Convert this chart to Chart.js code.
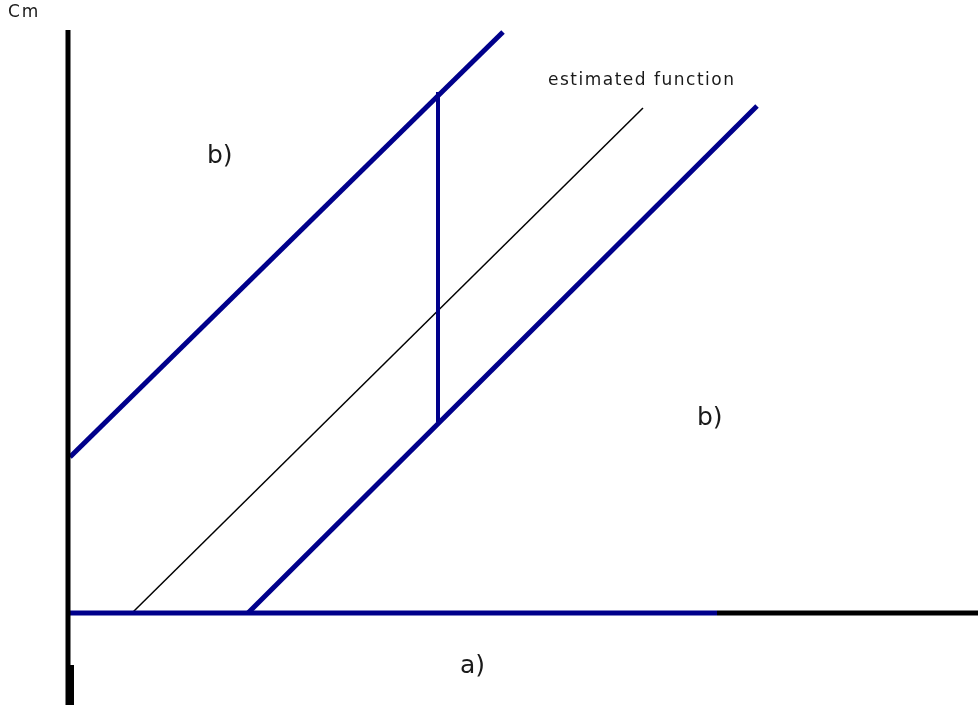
<!DOCTYPE html>
<html>
<head>
<meta charset="utf-8">
<script src="https://cdn.jsdelivr.net/npm/chart.js@4"></script>
<style>
  html, body { margin: 0; padding: 0; background: #fff; }
  #wrap { width: 978px; height: 709px; }
</style>
</head>
<body>
<div id="wrap"><canvas id="sketch"></canvas></div>
<script>
// values measured from the axis origin (x right, y up)
const upperBand = [{ x: 2, y: 156 }, { x: 435, y: 581 }];
const estimated = [{ x: 65, y: 1 }, { x: 575, y: 505 }];
const lowerBand = [{ x: 180, y: 0 }, { x: 689, y: 507 }];
const gap = [{ x: 370, y: 521 }, { x: 370, y: 191 }];
const xAxisBlue = [{ x: 0, y: 0 }, { x: 649, y: 0 }];
const xAxisBlack = [{ x: 649, y: 0 }, { x: 910, y: 0 }];
const yAxis = [{ x: 0, y: 583 }, { x: 0, y: -92 }];
const yAxisStub = [{ x: 3, y: -52 }, { x: 3, y: -92 }];

// text anchors (left, baseline) in the same units
const labels = [
    { text: 'Cm', x: -60, y: 596, size: 17, spacing: 2 },
    { text: 'estimated function', x: 480, y: 528, size: 17, spacing: 1.5 },
    { text: 'b)', x: 139, y: 450, size: 25 },
    { text: 'b)', x: 629, y: 188, size: 25 },
    { text: 'a)', x: 392, y: -60, size: 25 }
];

const blue = '#00008b';

function line(data, color, width) {
    return {
        data: data,
        showLine: true,
        borderColor: color,
        borderWidth: width,
        pointRadius: 0,
        fill: false
    };
}

// draw the hand-written labels at data positions
const textPlugin = {
    id: 'sketchText',
    afterDatasetsDraw(chart) {
        const c = chart.ctx;
        const xs = chart.scales.x, ys = chart.scales.y;
        c.save();
        c.fillStyle = '#1a1a1a';
        c.textBaseline = 'alphabetic';
        labels.forEach(function (l) {
            c.font = l.size + 'px "DejaVu Sans", sans-serif';
            c.letterSpacing = (l.spacing || 0) + 'px';
            c.fillText(l.text, xs.getPixelForValue(l.x), ys.getPixelForValue(l.y));
        });
        c.restore();
    }
};

new Chart(document.getElementById('sketch'), {
    type: 'scatter',
    data: {
        datasets: [
            line(yAxis, '#000', 5),
            line(yAxisStub, '#000', 6),
            line(xAxisBlack, '#000', 5),
            line(xAxisBlue, blue, 5),
            line(upperBand, blue, 5),
            line(lowerBand, blue, 5),
            line(gap, blue, 4),
            line(estimated, '#000', 1.5)
        ]
    },
    options: {
        responsive: true,
        maintainAspectRatio: false,
        animation: false,
        layout: { padding: 0 },
        plugins: {
            legend: { display: false },
            tooltip: { enabled: false }
        },
        scales: {
            x: { type: 'linear', min: -68, max: 910, display: false },
            y: { type: 'linear', min: -96, max: 613, display: false }
        }
    },
    plugins: [textPlugin]
});
</script>
</body>
</html>
